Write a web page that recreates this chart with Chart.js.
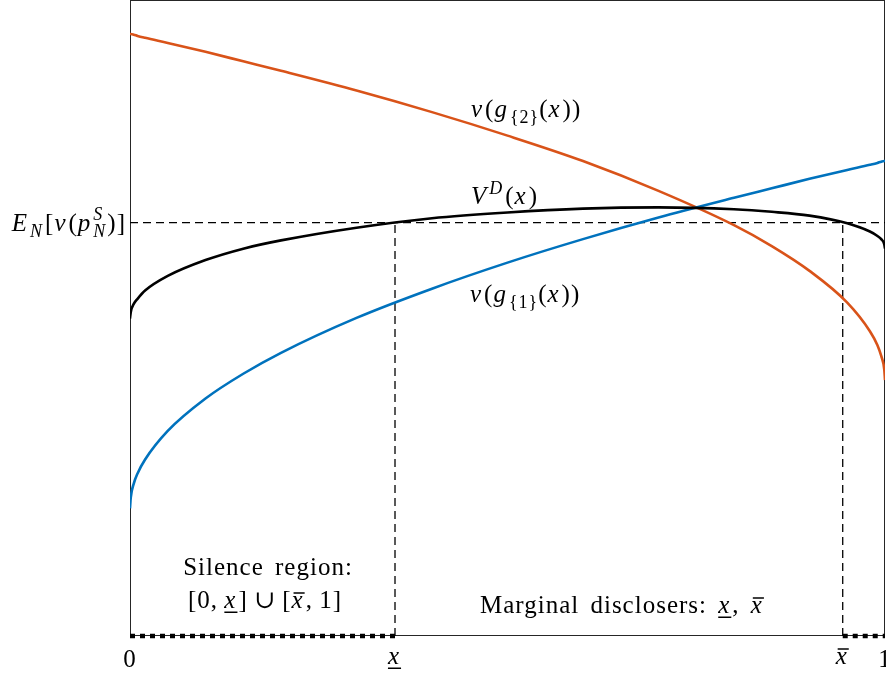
<!DOCTYPE html>
<html>
<head>
<meta charset="utf-8">
<script src="https://cdn.jsdelivr.net/npm/chart.js@4"></script>
<style>
  html, body { margin: 0; padding: 0; background: #fff; }
  #wrap { width: 886px; height: 673px; }
</style>
</head>
<body>
<div id="wrap"><canvas id="c"></canvas></div>
<script>
const xs = [0, 0.001, 0.005, 0.01, 0.02, 0.05, 0.1, 0.15, 0.2, 0.3, 0.4, 0.5, 0.6, 0.7, 0.8, 0.85, 0.9, 0.95, 0.98, 0.99, 0.995, 0.999, 1];
// v(g_{1}(x)) - blue
const g1Vals = [0.201, 0.218, 0.240, 0.256, 0.278, 0.323, 0.374, 0.413, 0.446, 0.501, 0.547, 0.588, 0.625, 0.659, 0.690, 0.705, 0.720, 0.734, 0.742, 0.745, 0.747, 0.748, 0.748];
// v(g_{2}(x)) - orange
const g2Vals = [0.948, 0.948, 0.947, 0.945, 0.942, 0.934, 0.920, 0.905, 0.890, 0.859, 0.825, 0.788, 0.748, 0.701, 0.647, 0.614, 0.575, 0.525, 0.480, 0.458, 0.441, 0.420, 0.403];
// V^D(x) - black
const vdVals = [0.500, 0.510, 0.523, 0.531, 0.544, 0.567, 0.592, 0.610, 0.623, 0.643, 0.658, 0.667, 0.673, 0.675, 0.672, 0.668, 0.662, 0.650, 0.637, 0.630, 0.625, 0.617, 0.610];

const eLevel = 0.651;  // E_N[v(p_N^S)]
const xLow = 0.351;    // x underline
const xHigh = 0.944;   // x bar

const FONT = '"Liberation Serif", "DejaVu Serif", serif';
const BLUE = "#0072BD";
const ORANGE = "#D95319";

const pts = (arr) => xs.map((x, i) => ({ x: x, y: arr[i] }));

function partFont(p, size) {
  const small = p.s || p.sup;
  const sz = small ? Math.round(size * 0.7) : size;
  return (p.i || p.sup ? "italic " : "") + sz + "px " + FONT;
}
function setSpacing(ctx, ws) {
  ctx.letterSpacing = "1px";
  ctx.wordSpacing = ws + "px";
}
function partWidth(ctx, p, size, ws) {
  ctx.font = partFont(p, size);
  setSpacing(ctx, ws);
  if (p.sup) return Math.max(ctx.measureText(p.sup).width, ctx.measureText(p.sub).width) + 1;
  return ctx.measureText(p.t).width + (p.i ? size * 0.08 : 0);
}
// little helper for the math-ish labels (sub/superscripts, under/over bars)
function drawMath(ctx, parts, x, base, align, size, ws) {
  ws = ws === undefined ? 4 : ws;
  ctx.save();
  ctx.textBaseline = "alphabetic";
  ctx.textAlign = "left";
  ctx.fillStyle = "#000";
  ctx.strokeStyle = "#000";
  const w = parts.reduce((a, p) => a + partWidth(ctx, p, size, ws), 0);
  let cx = align === "center" ? x - w / 2 : align === "right" ? x - w : x;
  parts.forEach((p) => {
    const pw = partWidth(ctx, p, size, ws);
    ctx.font = partFont(p, size);
    setSpacing(ctx, ws);
    if (p.sup) {
      ctx.fillText(p.sup, cx, base - size * 0.42);
      ctx.fillText(p.sub, cx, base + size * 0.25);
    } else {
      const dy = p.s === "sub" ? size * 0.25 : p.s === "sup" ? -size * 0.42 : 0;
      ctx.fillText(p.t, cx, base + dy);
      ctx.lineWidth = 1.5;
      if (p.u) {
        ctx.beginPath();
        ctx.moveTo(cx, base + size * 0.17);
        ctx.lineTo(cx + pw - 1, base + size * 0.17);
        ctx.stroke();
      }
      if (p.o) {
        ctx.beginPath();
        ctx.moveTo(cx + size * 0.08, base - size * 0.6);
        ctx.lineTo(cx + pw - 1, base - size * 0.6);
        ctx.stroke();
      }
    }
    cx += pw;
  });
  ctx.restore();
}

const framePlugin = {
  id: "frame",
  beforeDatasetsDraw(chart) {
    const { ctx, chartArea: a } = chart;
    ctx.save();
    ctx.strokeStyle = "#262626";
    ctx.lineWidth = 1;
    ctx.strokeRect(a.left + 0.5, a.top - 0.5, a.right - a.left - 1, a.bottom - a.top);
    ctx.restore();
  },
  afterDraw(chart) {
    const { ctx } = chart;
    const xS = chart.scales.x, yS = chart.scales.y;
    const S = 25;
    // y tick
    drawMath(ctx, [{ t: "E", i: 1 }, { t: "N", i: 1, s: "sub" }, { t: "[" }, { t: "v", i: 1 }, { t: "(" },
      { t: "p", i: 1 }, { sup: "S", sub: "N" }, { t: ")]" }], xS.left - 4, yS.getPixelForValue(eLevel) + 8, "right", S);
    // x ticks
    const tb = xS.bottom + 31;
    drawMath(ctx, [{ t: "0" }], xS.getPixelForValue(0), tb, "center", S);
    drawMath(ctx, [{ t: "x", i: 1, u: 1 }], xS.getPixelForValue(xLow), tb - 3, "center", S);
    drawMath(ctx, [{ t: "x", i: 1, o: 1 }], xS.getPixelForValue(xHigh), tb - 3, "center", S);
    drawMath(ctx, [{ t: "1" }], xS.getPixelForValue(1), tb, "center", S);
    // curve labels
    drawMath(ctx, [{ t: "v", i: 1 }, { t: "(" }, { t: "g", i: 1 }, { t: "{2}", s: "sub" }, { t: "(" }, { t: "x", i: 1 }, { t: "))" }], 471, 117, "left", S);
    drawMath(ctx, [{ t: "V", i: 1 }, { t: "D", i: 1, s: "sup" }, { t: "(" }, { t: "x", i: 1 }, { t: ")" }], 471, 204, "left", S);
    drawMath(ctx, [{ t: "v", i: 1 }, { t: "(" }, { t: "g", i: 1 }, { t: "{1}", s: "sub" }, { t: "(" }, { t: "x", i: 1 }, { t: "))" }], 470, 302, "left", S);
    // region notes
    drawMath(ctx, [{ t: "Silence region:" }], 268, 575, "center", S);
    drawMath(ctx, [{ t: "[0, " }, { t: "x", i: 1, u: 1 }, { t: "] \u222A [" }, { t: "x", i: 1, o: 1 }, { t: ", 1]" }], 265, 608, "center", S, -1);
    drawMath(ctx, [{ t: "Marginal disclosers: " }, { t: "x", i: 1, u: 1 }, { t: ", " }, { t: "x", i: 1, o: 1 }], 480, 613, "left", S);
  }
};

const dashed = { borderColor: "#000", borderWidth: 1.3, borderDash: [8, 5], pointRadius: 0, showLine: true, clip: false };
const dotted = { borderColor: "#000", borderWidth: 4.5, borderDash: [5, 5], pointRadius: 0, showLine: true, clip: false, borderCapStyle: "butt" };
const curve = { borderWidth: 2.6, pointRadius: 0, showLine: true, cubicInterpolationMode: "monotone" };

new Chart(document.getElementById("c"), {
  type: "scatter",
  data: {
    datasets: [
      Object.assign({ label: "V^D(x)", data: pts(vdVals), borderColor: "#000" }, curve),
      Object.assign({ label: "v(g{1}(x))", data: pts(g1Vals), borderColor: BLUE }, curve),
      Object.assign({ label: "v(g{2}(x))", data: pts(g2Vals), borderColor: ORANGE }, curve),
      Object.assign({ label: "E level", data: [{ x: 0, y: eLevel }, { x: 1, y: eLevel }] }, dashed),
      Object.assign({ label: "x low", data: [{ x: xLow, y: 0 }, { x: xLow, y: eLevel }] }, dashed),
      Object.assign({ label: "x high", data: [{ x: xHigh, y: 0 }, { x: xHigh, y: eLevel }] }, dashed),
      Object.assign({ label: "silence low", data: [{ x: 0, y: 0 }, { x: xLow, y: 0 }] }, dotted),
      Object.assign({ label: "silence high", data: [{ x: xHigh, y: 0 }, { x: 1, y: 0 }] }, dotted)
    ]
  },
  options: {
    responsive: true,
    maintainAspectRatio: false,
    animation: false,
    layout: { padding: { left: 130, top: 1, right: 1, bottom: 37 } },
    plugins: { legend: { display: false }, tooltip: { enabled: false } },
    scales: {
      x: { type: "linear", min: 0, max: 1, display: false },
      y: { type: "linear", min: 0, max: 1, display: false }
    }
  },
  plugins: [framePlugin]
});
</script>
</body>
</html>
